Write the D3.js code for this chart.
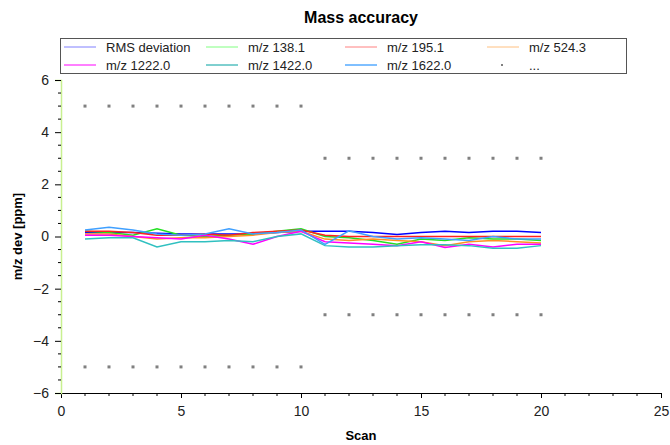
<!DOCTYPE html>
<html>
<head>
<meta charset="utf-8">
<script src="https://cdn.jsdelivr.net/npm/d3@7"></script>
<style>
  body { margin: 0; background: #fff; }
  svg { font-family: "Liberation Sans", Arial, sans-serif; }
</style>
</head>
<body>
<svg id="chart" width="670" height="445"></svg>
<script>
// ---- data ----
const scans = d3.range(1, 21);
const seriesNames = ['RMS deviation', 'm/z 138.1', 'm/z 195.1', 'm/z 524.3',
                     'm/z 1222.0', 'm/z 1422.0', 'm/z 1622.0'];
const legendColors = ['#8080ff', '#80ff80', '#ff8080', '#ffc080',
                      '#ff00ff', '#00a0a0', '#0080ff'];
const lineColors = ['#0000ff', '#22e022', '#ff2020', '#ff9020',
                    '#ff00ff', '#30c0c0', '#40a0ff'];

const rmsVals   = [0.15, 0.15, 0.15, 0.12, 0.1, 0.1, 0.1, 0.1, 0.15, 0.2, 0.2, 0.2, 0.15, 0.08, 0.15, 0.2, 0.15, 0.2, 0.2, 0.15];
const mz138     = [0.2, 0.15, 0.05, 0.3, 0.05, 0.0, 0.05, 0.1, 0.2, 0.3, 0.0, -0.05, -0.15, -0.3, -0.1, -0.15, -0.05, -0.1, -0.1, -0.15];
const mz195     = [0.2, 0.2, 0.15, 0.05, 0.05, 0.1, 0.05, 0.15, 0.2, 0.25, 0.05, 0.0, 0.0, 0.0, 0.0, 0.0, 0.0, 0.0, 0.0, 0.0];
const mz524     = [0.1, 0.1, 0.0, -0.1, -0.05, -0.05, 0.0, 0.05, 0.15, 0.2, -0.1, -0.15, -0.1, -0.15, -0.2, -0.35, -0.2, -0.15, -0.2, -0.25];
const mz1222    = [0.05, 0.05, 0.0, -0.05, -0.1, 0.05, -0.1, -0.3, 0.0, 0.2, -0.2, -0.25, -0.3, -0.35, -0.2, -0.42, -0.3, -0.4, -0.3, -0.3];
const mz1422    = [-0.1, -0.05, -0.05, -0.4, -0.2, -0.2, -0.15, -0.2, 0.0, 0.1, -0.35, -0.4, -0.4, -0.35, -0.32, -0.32, -0.35, -0.45, -0.45, -0.35];
const mz1622    = [0.25, 0.35, 0.25, 0.1, 0.05, 0.1, 0.3, 0.1, 0.15, 0.25, -0.3, 0.22, 0.0, -0.1, -0.05, -0.1, -0.15, 0.0, -0.1, -0.1];
const seriesVals = [rmsVals, mz138, mz195, mz524, mz1222, mz1422, mz1622];

// limit markers ("...")
const limitScans = d3.range(1, 21);
const limitUpper = scans.map(s => s <= 10 ? 5 : 3);
const limitLower = scans.map(s => s <= 10 ? -5 : -3);

const xTicks = [0, 5, 10, 15, 20, 25];
const yTicks = [-6, -4, -2, 0, 2, 4, 6];

// ---- layout ----
const svg = d3.select('#chart');
const x = d3.scaleLinear().domain([0, 25]).range([61, 661]);
const y = d3.scaleLinear().domain([-6, 6]).range([393, 80]);

// title
svg.append('text')
    .attr('x', 361).attr('y', 23)
    .attr('text-anchor', 'middle')
    .attr('font-size', 16).attr('font-weight', 'bold')
    .text('Mass accuracy');

// axes
const xAxis = svg.append('g').attr('transform', `translate(0,${y(-6)})`);
xAxis.call(d3.axisBottom(x).tickValues(xTicks).tickSize(5).tickPadding(8).tickFormat(d3.format('d')));
xAxis.append('g').selectAll('line')
    .data(d3.range(0, 26).filter(v => v % 5 !== 0))
    .join('line')
    .attr('x1', d => x(d)).attr('x2', d => x(d))
    .attr('y1', 0).attr('y2', 3)
    .attr('stroke', '#000');

const yAxis = svg.append('g').attr('transform', `translate(${x(0)},0)`);
yAxis.call(d3.axisLeft(y).tickValues(yTicks).tickSize(6).tickPadding(6).tickFormat(d3.format('d')));
yAxis.append('g').selectAll('line')
    .data(d3.range(-6, 6.01, 0.5).filter(v => v % 2 !== 0))
    .join('line')
    .attr('x1', 0).attr('x2', -3)
    .attr('y1', d => y(d)).attr('y2', d => y(d))
    .attr('stroke', '#000');
yAxis.select('.domain').attr('stroke', '#c8f090').attr('stroke-width', 1.5);

svg.selectAll('.tick text')
    .attr('font-family', '"Liberation Sans", Arial, sans-serif')
    .attr('font-size', 14).attr('fill', '#222');

// axis titles
svg.append('text')
    .attr('x', 361).attr('y', 440)
    .attr('text-anchor', 'middle')
    .attr('font-size', 13).attr('font-weight', 'bold')
    .text('Scan');
svg.append('text')
    .attr('transform', `translate(22,${y(0)}) rotate(-90)`)
    .attr('text-anchor', 'middle')
    .attr('font-size', 13).attr('font-weight', 'bold')
    .text('m/z dev [ppm]');

// limit markers
const markers = svg.append('g').attr('fill', '#808080');
[limitUpper, limitLower].forEach(vals => {
    markers.selectAll(null)
        .data(limitScans.map((s, i) => [s, vals[i]]))
        .join('rect')
        .attr('x', d => x(d[0]) - 1.5).attr('y', d => y(d[1]) - 1.5)
        .attr('width', 3).attr('height', 3);
});

// series lines
const line = d3.line().x((d, i) => x(scans[i])).y(d => y(d));
seriesVals.forEach((vals, k) => {
    svg.append('path')
        .datum(vals)
        .attr('d', line)
        .attr('fill', 'none')
        .attr('stroke', lineColors[k])
        .attr('stroke-width', 1.5);
});

// legend
const legend = svg.append('g');
legend.append('rect')
    .attr('x', 60.5).attr('y', 38.5).attr('width', 566).attr('height', 35)
    .attr('fill', '#fff').attr('stroke', '#555');
const colX = [64, 206, 345, 487];
const rowY = [47, 65];
seriesNames.concat(['...']).forEach((name, i) => {
    const cx = colX[i % 4], cy = rowY[Math.floor(i / 4)];
    if (i < seriesNames.length) {
        legend.append('line')
            .attr('x1', cx).attr('x2', cx + 32)
            .attr('y1', cy).attr('y2', cy)
            .attr('stroke', legendColors[i]).attr('stroke-width', 1);
    } else {
        legend.append('rect')
            .attr('x', cx + 14).attr('y', cy - 1).attr('width', 2).attr('height', 2)
            .attr('fill', '#808080');
    }
    legend.append('text')
        .attr('x', cx + 42).attr('y', cy + 4.5)
        .attr('font-size', 13).attr('fill', '#222')
        .text(name);
});
</script>
</body>
</html>
